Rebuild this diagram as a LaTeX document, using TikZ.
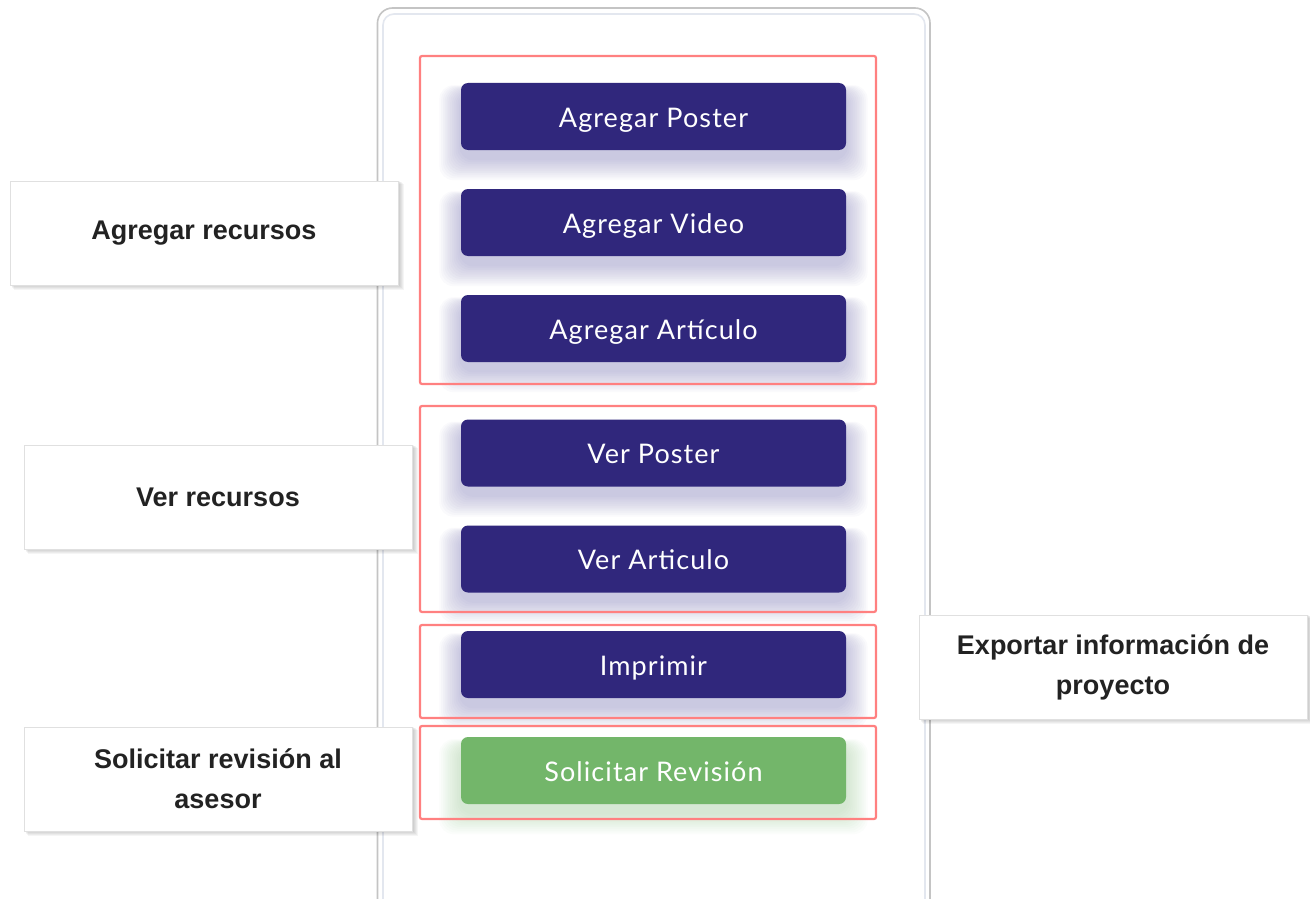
\documentclass[tikz,border=0pt]{standalone}
\usepackage{fontspec}
\setmainfont{Liberation Sans}
\newfontfamily\btnfont[LetterSpace=4]{Lato}
\newfontfamily\lblfont{Liberation Sans}
\definecolor{btnblue}{HTML}{30277C}
\definecolor{btngreen}{HTML}{73B66A}
\definecolor{grpred}{HTML}{FF8080}
\definecolor{shpurple}{HTML}{6A63B0}
\definecolor{shgreen}{HTML}{8CCB84}
\definecolor{lbltext}{HTML}{222222}
\definecolor{frameout}{HTML}{C4C4C4}
\definecolor{framein}{HTML}{E3E7EF}
\tikzset{
  btnbox/.style={rounded corners=7pt, minimum width=385pt, minimum height=67pt,
    inner sep=0pt, text=white, text height=26pt, text depth=5pt,
    font=\btnfont\fontsize{27}{30}\selectfont},
  grpbox/.style={draw=grpred, line width=2.2pt, rounded corners=2pt},
  lblbox/.style={draw=black!12, line width=0.8pt, fill=white, minimum width=388pt,
    minimum height=104pt, inner sep=0pt, align=center, text=lbltext,
    font=\lblfont\bfseries\fontsize{27}{40}\selectfont},
}
\begin{document}
\begin{tikzpicture}[x=1pt,y=-1pt]
\useasboundingbox (0,0) rectangle (1310,899);
\fill[white] (0,0) rectangle (1310,899);
\begin{scope}
\clip (0,0) rectangle (1310,899);
% phone frame
\draw[frameout, line width=1.6pt, rounded corners=15pt] (377.5,8) rectangle (930,930);
\draw[framein, line width=1.6pt, rounded corners=11pt] (383,14) rectangle (925,930);
% button shadows
\foreach \cy/\col in {116.5/shpurple,222.5/shpurple,328.5/shpurple,453/shpurple,559/shpurple,664.5/shpurple,770.5/shgreen}{
  \foreach \i in {1,...,12}{
    \fill[\col, opacity=0.03, rounded corners=14pt]
      (461-\i*1.8,\cy-24-\i*0.6) rectangle (846+\i*1.8,\cy+42+\i*1.8);
  }
}
% group boxes
\draw[grpbox] (420,56) rectangle (876,384);
\draw[grpbox] (420,406) rectangle (876,612);
\draw[grpbox] (420,625) rectangle (876,718);
\draw[grpbox] (420,726) rectangle (876,819);
% buttons
\node[btnbox, fill=btnblue] (p1) at (653.5,116.5) {Agregar Poster};
\node[btnbox, fill=btnblue] (p2) at (653.5,222.5) {Agregar Video};
\node[btnbox, fill=btnblue] (p3) at (653.5,328.5) {Agregar Artículo};
\node[btnbox, fill=btnblue] (v1) at (653.5,453) {Ver Poster};
\node[btnbox, fill=btnblue] (v2) at (653.5,559) {Ver Articulo};
\node[btnbox, fill=btnblue] (im) at (653.5,664.5) {Imprimir};
\node[btnbox, fill=btngreen] (sr) at (653.5,770.5) {Solicitar Revisión};
% label shadows
\foreach \lx/\ly in {10/180,24/444,24/726,919/614}{
  \foreach \i in {1,...,6}{
    \fill[black, opacity=0.04] (\lx+\i*0.6,\ly+\i*0.6) rectangle (\lx+388+\i*1.0,\ly+104+\i*1.0);
  }
}
% labels
\node[lblbox] (l1) at (204,233) {Agregar recursos};
\node[lblbox] (l2) at (218,497) {Ver recursos};
\node[lblbox] (l3) at (218,779) {Solicitar revisión al\\asesor};
\node[lblbox] (l4) at (1113,667) {Exportar información de\\proyecto};
\end{scope}
\end{tikzpicture}
\end{document}
